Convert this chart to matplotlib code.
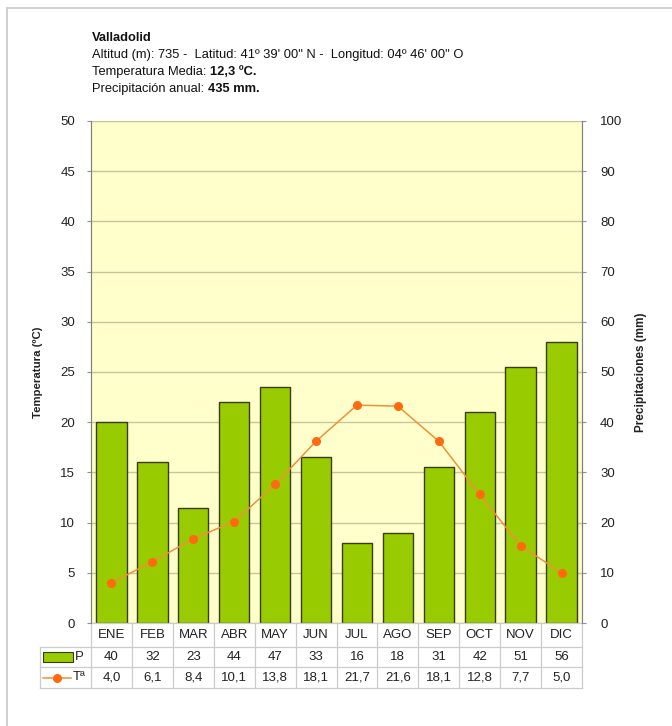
"""
Climograma de Valladolid: precipitacion (barras) y temperatura (linea)
con tabla de valores mensuales debajo del grafico
"""
import numpy as np
import matplotlib
matplotlib.use("Agg")
import matplotlib.pyplot as plt
from matplotlib.patches import Rectangle
from matplotlib.lines import Line2D

MONTHS = ["ENE", "FEB", "MAR", "ABR", "MAY", "JUN",
          "JUL", "AGO", "SEP", "OCT", "NOV", "DIC"]
PRECIP = [40, 32, 23, 44, 47, 33, 16, 18, 31, 42, 51, 56]
TEMP = [4.0, 6.1, 8.4, 10.1, 13.8, 18.1, 21.7, 21.6, 18.1, 12.8, 7.7, 5.0]

BAR_COLOR = "#99cc00"
BAR_EDGE = "#3a3a10"
LINE_COLOR = "#f0903a"
MARKER_COLOR = "#ff6a10"
BG_COLOR = "#ffffcc"
GRID_COLOR = "#c9c49a"
TABLE_LINE = "#cccccc"
TEXT_COLOR = "#222222"

plt.rcParams["font.family"] = ["Liberation Sans", "DejaVu Sans"]


def fmt_es(val):
    """formatea con coma decimal"""
    return "{:.1f}".format(val).replace(".", ",")


def main():
    W, H = 672, 726
    fig = plt.figure(figsize=(W / 100, H / 100), dpi=100)

    # marco exterior
    fig.add_artist(Rectangle((7 / W, -0.1), 1.2, 1 - 8 / H + 0.1,
                             transform=fig.transFigure, fill=False,
                             edgecolor="#c8c8c8", lw=1.2))

    left, right, top, bot = 91, 582, 121, 623
    ax = fig.add_axes([left / W, 1 - bot / H, (right - left) / W, (bot - top) / H])
    ax2 = ax.twinx()
    ax.set_zorder(ax2.get_zorder() + 1)
    ax.patch.set_visible(False)
    ax2.patch.set_facecolor(BG_COLOR)
    ax2.patch.set_visible(True)

    x = np.arange(len(MONTHS))
    ax2.bar(x, PRECIP, width=0.74, color=BAR_COLOR, edgecolor=BAR_EDGE,
            linewidth=1.0, zorder=3)
    ax.plot(x, TEMP, "-", color=LINE_COLOR, lw=1.1, zorder=4)
    ax.plot(x, TEMP, "o", color=MARKER_COLOR, ms=5.5, mec=MARKER_COLOR, zorder=5)

    ax.set_xlim(-0.5, len(MONTHS) - 0.5)
    ax.set_ylim(0, 50)
    ax2.set_ylim(0, 100)
    ax.set_yticks(np.arange(0, 51, 5))
    ax2.set_yticks(np.arange(0, 101, 10))
    ax.set_xticks([])
    ax2.set_axisbelow(True)
    ax2.grid(axis="y", color=GRID_COLOR, lw=1.0, zorder=0)

    for a in (ax, ax2):
        for side in ("top", "bottom"):
            a.spines[side].set_visible(False)
        a.spines["left"].set_color("#808080")
        a.spines["right"].set_color("#808080")
        a.tick_params(axis="y", labelsize=9.5, colors="#909090",
                      labelcolor=TEXT_COLOR, length=3, width=0.8)
    ax.tick_params(axis="y", direction="out", pad=8.5)
    ax2.tick_params(axis="y", direction="out", pad=10)

    ax.set_ylabel("Temperatura (ºC)", fontsize=8.2, fontweight="bold",
                  color=TEXT_COLOR, labelpad=12)
    ax2.set_ylabel("Precipitaciones (mm)", fontsize=8.5, fontweight="bold",
                   color=TEXT_COLOR, rotation=90, labelpad=9)

    # tabla de datos
    tr = ax.get_xaxis_transform()
    h_ax = bot - top
    y_rows = [0, -24 / h_ax, -44 / h_ax, -65 / h_ax]
    x_lab = -0.5 - 51 / ((right - left) / len(MONTHS))
    x_end = len(MONTHS) - 0.5
    kw = dict(transform=tr, clip_on=False, color=TABLE_LINE, lw=0.9)
    ax.add_line(Line2D([-0.5, x_end], [y_rows[0]] * 2, **kw))
    for yr in y_rows[1:]:
        ax.add_line(Line2D([x_lab, x_end], [yr] * 2, **kw))
    for i in range(len(MONTHS) + 1):
        ax.add_line(Line2D([i - 0.5] * 2, [y_rows[0], y_rows[3]], **kw))
    ax.add_line(Line2D([x_lab] * 2, [y_rows[1], y_rows[3]], **kw))

    txt_kw = dict(transform=tr, ha="center", va="center", fontsize=9.5,
                  color=TEXT_COLOR, clip_on=False)
    for i, m in enumerate(MONTHS):
        ax.text(i, (y_rows[0] + y_rows[1]) / 2, m, **txt_kw)
        ax.text(i, (y_rows[1] + y_rows[2]) / 2, str(PRECIP[i]), **txt_kw)
        ax.text(i, (y_rows[2] + y_rows[3]) / 2, fmt_es(TEMP[i]), **txt_kw)

    # leyenda en la tabla
    px = lambda p: -0.5 + (p - left) / ((right - left) / len(MONTHS))
    yp = (y_rows[1] + y_rows[2]) / 2
    yt = (y_rows[2] + y_rows[3]) / 2
    ax.add_patch(Rectangle((px(43), yp - 5 / h_ax), px(73) - px(43), 10 / h_ax,
                           transform=tr, clip_on=False, facecolor=BAR_COLOR,
                           edgecolor=BAR_EDGE, lw=0.8))
    ax.text(px(75), yp, "P", transform=tr, ha="left", va="center",
            fontsize=9.5, color=TEXT_COLOR, clip_on=False)
    ax.add_line(Line2D([px(43), px(71)], [yt, yt], transform=tr, clip_on=False,
                       color=LINE_COLOR, lw=1.1))
    ax.add_line(Line2D([px(57)], [yt], transform=tr, clip_on=False, marker="o",
                       ms=5.5, color=MARKER_COLOR))
    ax.text(px(73), yt, "Tª", transform=tr, ha="left", va="center",
            fontsize=9.5, color=TEXT_COLOR, clip_on=False)

    # cabecera
    x0 = 92 / W
    fs = 9.3
    fig.text(x0, 1 - 38 / H, "Valladolid", fontsize=fs, fontweight="bold",
             color="#111111", va="center")
    fig.text(x0, 1 - 55 / H,
             "Altitud (m): 735 -  Latitud: 41º 39' 00\" N -  Longitud: 04º 46' 00\" O",
             fontsize=fs, color="#111111", va="center")
    t1 = fig.text(x0, 1 - 72 / H, "Temperatura Media: ", fontsize=fs,
                  color="#111111", va="center")
    fig.canvas.draw()
    bb = t1.get_window_extent()
    fig.text(bb.x1 / W, 1 - 72 / H, "12,3 ºC.", fontsize=fs, fontweight="bold",
             color="#111111", va="center")
    t2 = fig.text(x0, 1 - 89 / H, "Precipitación anual: ", fontsize=fs,
                  color="#111111", va="center")
    bb = t2.get_window_extent(fig.canvas.get_renderer())
    fig.text(bb.x1 / W, 1 - 89 / H, "435 mm.", fontsize=fs, fontweight="bold",
             color="#111111", va="center")

    fig.savefig("out.png", dpi=100, facecolor="white")
    plt.close(fig)


if __name__ == "__main__":
    main()
